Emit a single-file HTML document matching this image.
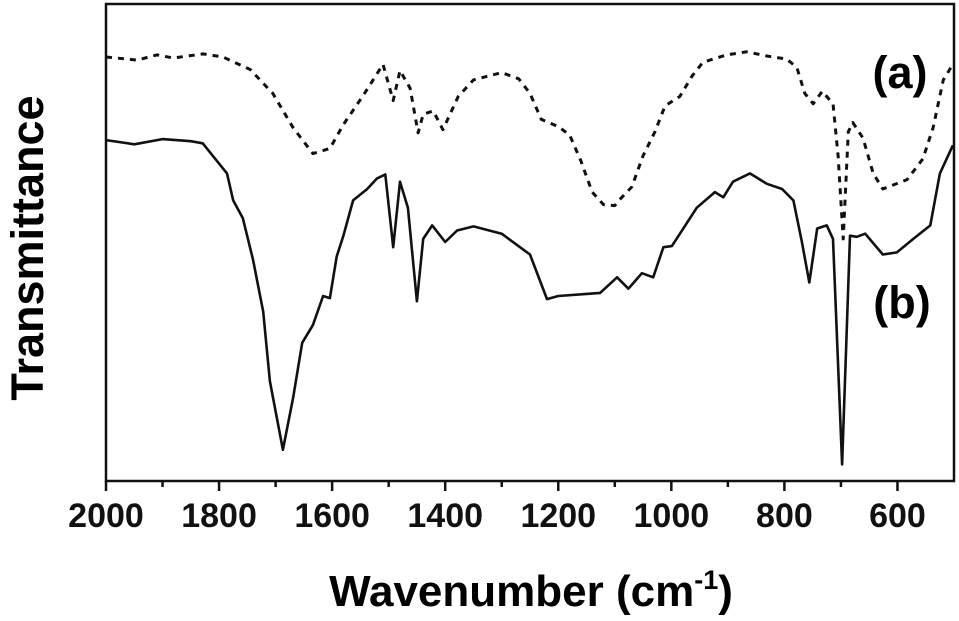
<!DOCTYPE html>
<html><head><meta charset="utf-8"><style>
html,body{margin:0;padding:0;background:#fff;}
svg{display:block;font-family:"Liberation Sans",Arial,sans-serif;font-weight:bold;}
</style></head><body>
<svg id="chart" width="959" height="621" viewBox="0 0 959 621">
<g id="axes"></g>
<g id="series"></g>
<text x="900" y="88" font-size="45" text-anchor="middle">(a)</text>
<text x="902" y="318" font-size="45" text-anchor="middle">(b)</text>
<text x="531" y="606" font-size="44" text-anchor="middle">Wavenumber (cm<tspan font-size="27" dy="-17">-1</tspan><tspan dy="17">)</tspan></text>
<text transform="translate(43,248) rotate(-90)" font-size="45" text-anchor="middle">Transmittance</text>
</svg>
<script>
const xTicks = [2000,1800,1600,1400,1200,1000,800,600];
const xMinor = [1900,1700,1500,1300,1100,900,700];
const waveA = [2000,1945,1910,1881,1828,1793,1745,1705,1669,1634,1604,1580,1545,1510,1492,1480,1462,1448,1439,1421,1404,1377,1350,1300,1270,1250,1230,1200,1180,1160,1140,1120,1100,1091,1070,1050,1029,1011,985,963,944,902,867,831,796,778,764,749,733,714,705,696,687,679,661,643,626,583,555,537,519,502];
const transA = [408,405,410,407,411,408,396,373,340,315,320,343,371,401,366,395,378,335,353,356,338,370,386,393,387,373,348,341,333,308,278,266,265,271,283,313,336,361,370,390,403,410,413,409,406,398,373,363,375,363,313,233,336,345,330,296,281,290,310,340,386,401];
const waveB = [2000,1950,1900,1850,1829,1786,1775,1758,1740,1722,1710,1687,1669,1653,1634,1616,1604,1592,1580,1563,1538,1521,1506,1492,1480,1466,1450,1439,1423,1400,1379,1350,1300,1250,1220,1200,1150,1126,1096,1076,1052,1032,1014,999,955,923,908,891,861,831,804,784,769,756,742,725,714,698,684,672,657,626,601,572,542,525,502];
const transB = [328,324,329,327,325,296,270,253,213,163,96,30,80,133,150,178,176,216,236,270,281,291,295,225,288,263,173,233,246,230,241,245,238,218,175,178,180,181,196,185,200,196,225,226,263,278,273,288,296,286,281,270,230,191,243,246,233,16,236,235,238,218,220,233,246,296,323];
const X0=106,X1=954,Y0=481,Y1=4;
function sx(w){return X0+(2000-w)*(X1-X0)/1500;}
function sy(t){return Y0-t*(Y0-Y1)/459;}
const NS="http://www.w3.org/2000/svg";
const axes=document.getElementById('axes'), series=document.getElementById('series');
function mk(tag,attrs,parent){const e=document.createElementNS(NS,tag);for(const k in attrs)e.setAttribute(k,attrs[k]);parent.appendChild(e);return e;}
const frame=mk('rect',{x:X0,y:Y1,width:X1-X0,height:Y0-Y1,fill:'none',stroke:'#111','stroke-width':2.5},axes);


xTicks.forEach(w=>{
  const t=mk('line',{x1:sx(w),x2:sx(w),y1:Y0,y2:Y0+10,stroke:'#111','stroke-width':2.5},axes);
  
  
  const l=mk('text',{x:sx(w),y:Y0+46,'font-size':34,'text-anchor':'middle',fill:'#111'},axes);
  l.textContent=w;
  
  
});
xMinor.forEach(w=>{
  const t=mk('line',{x1:sx(w),x2:sx(w),y1:Y0,y2:Y0+6,stroke:'#111','stroke-width':2.5},axes);
  
  
});
function path(ws,ts){return ws.map((w,i)=>(i?'L':'M')+sx(w).toFixed(1)+','+sy(ts[i]).toFixed(1)).join(' ');}
const pa=mk('path',{d:path(waveA,transA),fill:'none',stroke:'#111','stroke-width':3,'stroke-dasharray':'6 6','stroke-linejoin':'round'},series);


const pb=mk('path',{d:path(waveB,transB),fill:'none',stroke:'#111','stroke-width':2.6,'stroke-linejoin':'round'},series);


</script>
</body></html>
